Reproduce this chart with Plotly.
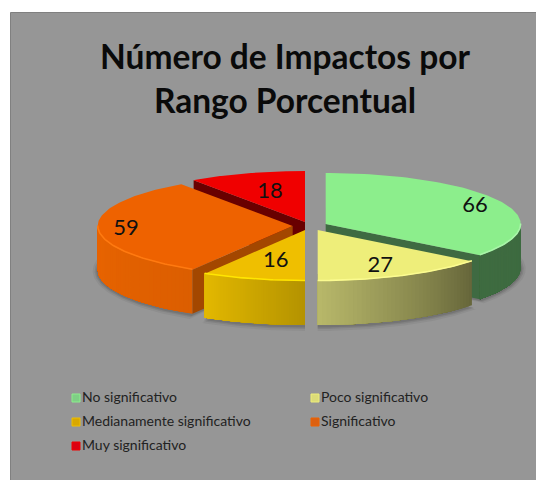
import numpy as np
import plotly.graph_objects as go

categories = ["No significativo", "Poco significativo", "Medianamente significativo", "Significativo", "Muy significativo"]
values = [66, 27, 16, 59, 18]

# style and layout
top_colors = ["#8cee8c", "#eeee7a", "#efbf00", "#ee6200", "#f00000"]
wall_start = ["#3e6b40", "#66663a", "#b49300", "#dc5e00", "#8a0000"]
wall_end = ["#3e6b40", "#b8b86a", "#e3b800", "#e96400", "#8a0000"]
cut_colors = ["#3f6a42", "#8a8a48", "#a88a00", "#a34700", "#690000"]
rim_colors = ["#a8f4a8", "#fbfb90", "#ffe600", "#ff7a10", "#ff3030"]
key_colors = ["#7fcf85", "#dcdc78", "#d9a800", "#dc6010", "#dc0010"]
centers = [(325.7, 224), (317.7, 230), (305, 230), (292.7, 226), (305, 222)]
label_frac = [0.853, 0.73, 0.56, 0.855, 0.6]
label_dy = [2, 3, 4, 2, 0]
draw_order = [4, 0, 3, 2, 1]
RX, RY, DEPTH = 195, 51, 44
PANEL = "#969696"
FONT = "Lato"

fig = go.Figure()


def poly(xs, ys, color, line=None):
    fig.add_trace(go.Scatter(
        x=list(xs), y=list(ys), mode="lines", fill="toself", fillcolor=color,
        line=dict(color=line or "rgba(0,0,0,0)", width=0), hoverinfo="skip", showlegend=False))


def pt(c, deg, dy=0.0, grow=0.0):
    a = np.radians(deg)
    return c[0] + (RX + grow) * np.sin(a), c[1] - (RY + grow) * np.cos(a) + dy


def blend(c1, c2, t):
    a = [int(c1[i:i + 2], 16) for i in (1, 3, 5)]
    b = [int(c2[i:i + 2], 16) for i in (1, 3, 5)]
    return "rgb(%d,%d,%d)" % tuple(round(a[i] + (b[i] - a[i]) * t) for i in range(3))


total = sum(values)
edges = np.cumsum([0] + values) / total * 360

# soft shadow under the pie
for i in range(len(values)):
    s, e = edges[i], edges[i + 1]
    if min(e, 300) <= max(s, 60):
        continue
    ang = np.linspace(max(s, 60), min(e, 300), 60)
    for g, alpha in ((5, 0.05), (3, 0.08), (1.5, 0.10)):
        xs, ys = pt(centers[i], ang, DEPTH + 1, g)
        poly(list(xs) + [centers[i][0]], list(ys) + [centers[i][1] + DEPTH],
             "rgba(0,0,0,%.2f)" % alpha)

for i in draw_order:
    c = centers[i]
    s, e = edges[i], edges[i + 1]
    # cut faces visible from the front
    for edge_angle, face_visible in ((s, 180 < s < 360), (e, 0 < e < 180)):
        if face_visible:
            x1, y1 = pt(c, edge_angle)
            poly([c[0], x1, x1, c[0]], [c[1], y1, y1 + DEPTH, c[1] + DEPTH], cut_colors[i])
    # outer wall: each strip overlaps the rest, so no seams appear
    lo, hi = max(s, 90), min(e, 270)
    if hi > lo:
        steps = np.linspace(lo, hi, 41)
        for k in range(40):
            ang = np.linspace(steps[k], hi, 40 - k + 2)
            xs, ys = pt(c, ang)
            col = blend(wall_start[i], wall_end[i], (k + 0.5) / 40)
            poly(list(xs) + list(xs[::-1]), list(ys) + list((ys + DEPTH)[::-1]), col)
    # top face
    ang = np.linspace(s, e, 90)
    xs, ys = pt(c, ang)
    poly([c[0]] + list(xs) + [c[0]], [c[1]] + list(ys) + [c[1]], top_colors[i])
    # bevel highlight on the front rim
    if hi > lo:
        ang = np.linspace(lo, hi, 60)
        xs, ys = pt(c, ang, -0.5)
        fig.add_trace(go.Scatter(x=xs, y=ys, mode="lines", line=dict(color=rim_colors[i], width=1.6),
                                 hoverinfo="skip", showlegend=False))

# value labels
for i, v in enumerate(values):
    mid = (edges[i] + edges[i + 1]) / 2
    a = np.radians(mid)
    f = label_frac[i]
    lx = centers[i][0] + RX * f * np.sin(a)
    ly = centers[i][1] - RY * f * np.cos(a) + label_dy[i]
    fig.add_trace(go.Scatter(x=[lx], y=[ly], mode="text", text=[str(v)], textposition="middle center",
                             textfont=dict(family=FONT, size=22, color="#111111"),
                             hoverinfo="skip", showlegend=False))

# legend drawn as keys with text, in two columns
col_x = [76, 315]
row_y = [398, 422, 446]
for i, name in enumerate(categories):
    lx, ly = col_x[i % 2], row_y[i // 2]
    fig.add_trace(go.Scatter(x=[lx], y=[ly], mode="markers+text", text=[name], textposition="middle right",
                             marker=dict(symbol="square", size=8, color=key_colors[i],
                                         line=dict(color=top_colors[i], width=1)),
                             textfont=dict(family=FONT, size=14, color="#222222"),
                             hoverinfo="skip", showlegend=False))

fig.update_layout(
    width=536, height=480, margin=dict(l=0, r=0, t=0, b=0),
    paper_bgcolor="white", plot_bgcolor="white",
    xaxis=dict(range=[0, 536], visible=False, fixedrange=True),
    yaxis=dict(range=[480, 0], visible=False, fixedrange=True),
    title=dict(text="<b>Número de Impactos por<br>Rango Porcentual</b>", x=285 / 536, xanchor="center",
               y=1 - 69 / 480, yanchor="middle", font=dict(family=FONT, size=33.5, color="#0a0a0a")),
    shapes=[dict(type="rect", xref="x", yref="y", x0=10.5, x1=537, y0=12.5, y1=481, layer="below",
                 fillcolor=PANEL, line=dict(color="#808080", width=1))],
)
fig.write_html("out.html", post_script="document.body.style.margin='0';",
               config=dict(displayModeBar=False))
